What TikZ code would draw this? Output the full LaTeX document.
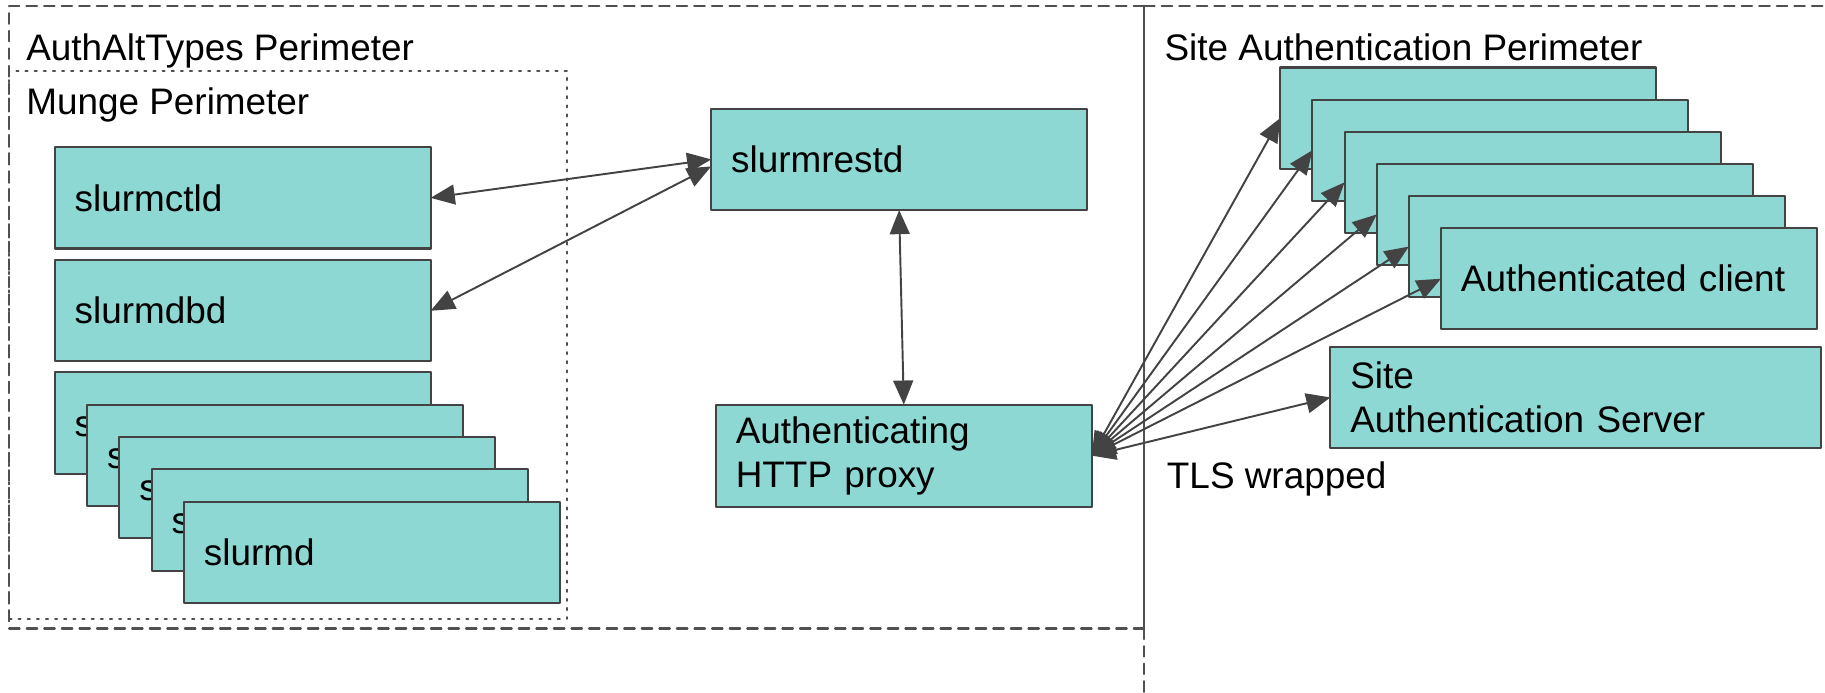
\documentclass[tikz,border=0pt]{standalone}
\usepackage{fontspec}
\setmainfont{Liberation Sans}
\usetikzlibrary{arrows}
\definecolor{boxfill}{RGB}{142,216,211}
\definecolor{boxline}{RGB}{67,67,67}
\definecolor{perim}{RGB}{80,80,80}

\begin{document}
\begin{tikzpicture}[line cap=round,line join=round,>=triangle 45,x=1.1639cm,y=1.1639cm,
  font=\fontsize{10.5}{12.6}\selectfont,
  svc/.style={draw=boxline,fill=boxfill,line width=0.6pt,anchor=west,outer sep=0pt,
    inner xsep=0.2cm,text width=3.36cm,minimum height=1.013cm,align=left},
  wide/.style={svc,text width=4.51cm},
  perimtext/.style={anchor=base west,inner sep=0pt},
  fence/.style={draw=perim,line width=0.6pt,dash pattern=on 3pt off 2pt},
  link/.style={<->,draw=boxline,line width=0.55pt}]
\useasboundingbox (0,0) rectangle (15.68,5.95);
% perimeters
\draw [fence] (9.83,5.90)--(0.08,5.90)--(0.08,0.55)--(9.83,0.55);
\draw [fence] (9.83,5.90)--(15.68,5.90);
\draw [draw=perim,line width=0.6pt] (9.83,5.90)--(9.83,0.55);
\draw [fence] (9.83,0.55)--(9.83,0);
\draw [draw=perim,line width=0.6pt,dotted] (0.08,5.34) rectangle (4.87,0.63);
\node[perimtext] (authalt) at (0.22,5.43) {AuthAltTypes Perimeter};
\node[perimtext] (munge) at (0.22,4.97) {Munge Perimeter};
\node[perimtext] (siteauth) at (10.00,5.43) {Site Authentication Perimeter};
\node[perimtext] (tls) at (10.02,1.75) {TLS wrapped};
% slurm daemons
\node[svc] (slurmctld) at (0.47,4.25) {slurmctld};
\node[svc] (slurmdbd) at (0.47,3.28) {slurmdbd};
\node[svc] (slurmdA) at (0.47,2.315) {slurmd};
\node[svc] (slurmdB) at (0.7475,2.0375) {slurmd};
\node[svc] (slurmdC) at (1.025,1.76) {slurmd};
\node[svc] (slurmdD) at (1.3025,1.4825) {slurmd};
\node[svc] (slurmdE) at (1.58,1.205) {slurmd};
\node[svc] (restd) at (6.11,4.58) {slurmrestd};
\node[svc] (proxy) at (6.15,2.035) {Authenticating\\HTTP proxy};
% clients
\node[svc] (clientA) at (11.00,4.935) {};
\node[svc] (clientB) at (11.276,4.659) {};
\node[svc] (clientC) at (11.552,4.383) {};
\node[svc] (clientD) at (11.828,4.107) {};
\node[svc] (clientE) at (12.104,3.831) {};
\node[svc] (clientF) at (12.38,3.555) {Authenticated client};
\node[wide] (authsrv) at (11.43,2.535) {Site\\Authentication Server};
% links
\draw [link] (slurmctld.east)--(restd.west);
\draw [link] (slurmdbd.east)--([yshift=-2pt]restd.west);
\draw [link] (restd.south)--(proxy.north);
\draw [link] (proxy.east)--(clientA.west);
\draw [link] (proxy.east)--(clientB.west);
\draw [link] (proxy.east)--(clientC.west);
\draw [link] (proxy.east)--(clientD.west);
\draw [link] (proxy.east)--(clientE.west);
\draw [link] (proxy.east)--(clientF.west);
\draw [link] (proxy.east)--(authsrv.west);
\end{tikzpicture}
\end{document}
